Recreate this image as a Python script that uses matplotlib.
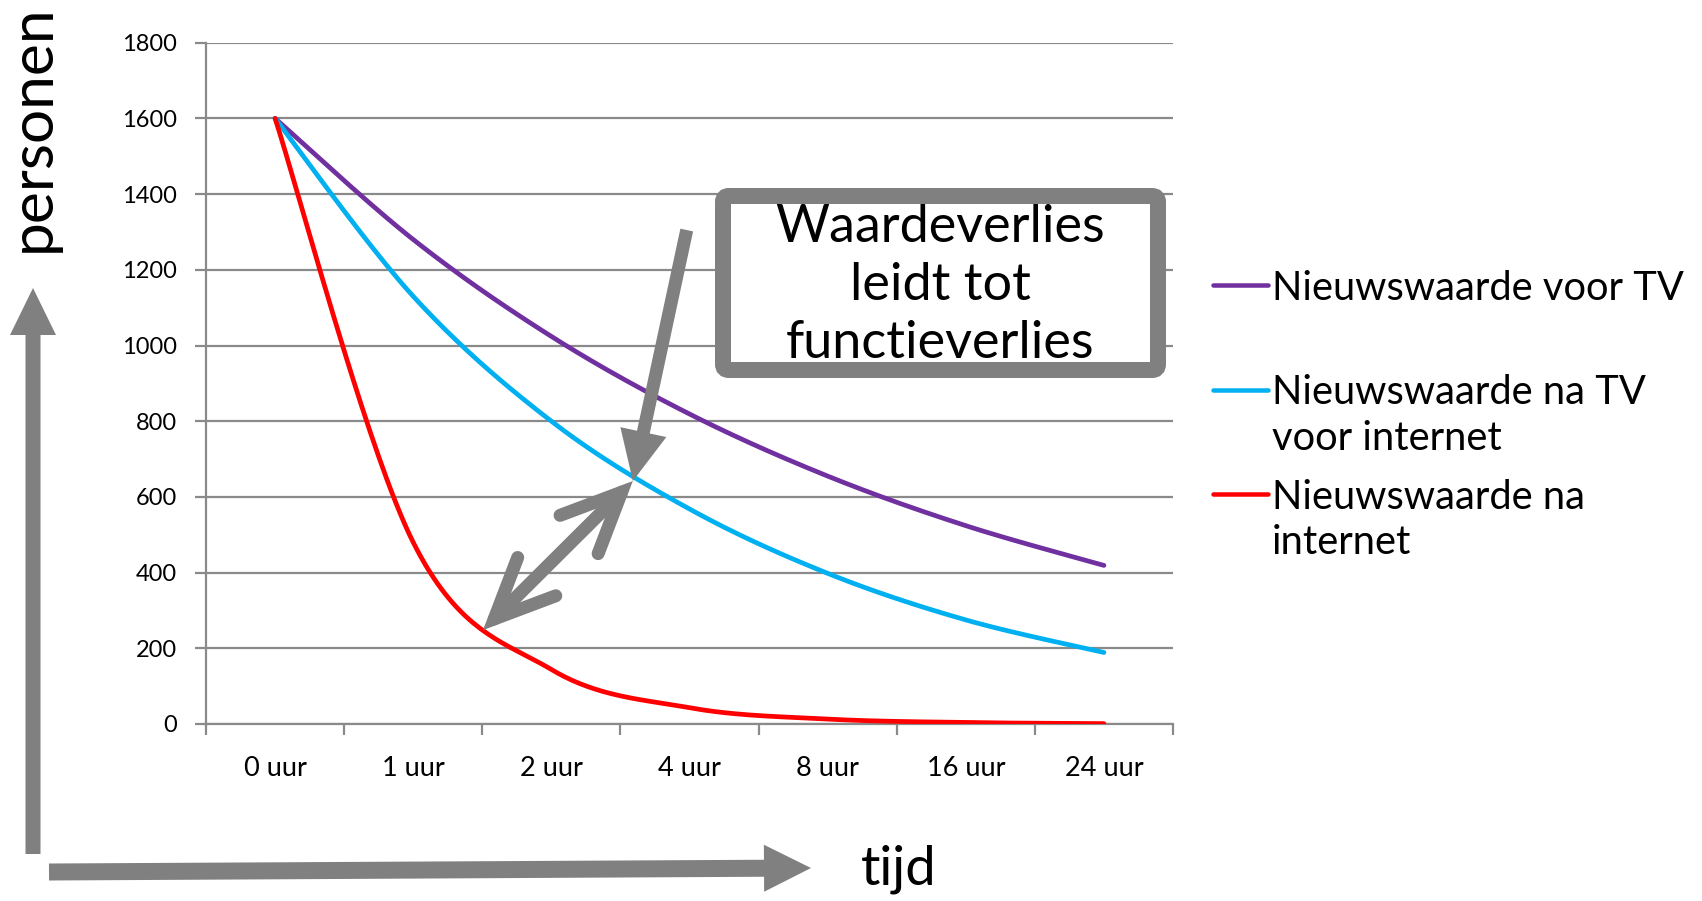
import numpy as np
import matplotlib
matplotlib.use("Agg")
import matplotlib.pyplot as plt
import matplotlib.transforms as mtransforms
from matplotlib.patches import FancyArrowPatch, FancyBboxPatch, ArrowStyle
from matplotlib.lines import Line2D

plt.rcParams['font.family'] = ['Lato', 'DejaVu Sans']

# data
categories = ["0 uur", "1 uur", "2 uur", "4 uur", "8 uur", "16 uur", "24 uur"]
voor_tv = [1600, 1280, 1024, 819, 655, 524, 419]
na_tv_voor_internet = [1600, 1130, 800, 568, 398, 275, 189]
na_internet = [1600, 480, 144, 43, 13, 4, 1]
series_labels = [["Nieuwswaarde voor TV"],
                 ["Nieuwswaarde na TV", "voor internet"],
                 ["Nieuwswaarde na", "internet"]]
series_colors = ["#7030A0", "#00B0F0", "#FF0000"]
yticks = list(range(0, 1801, 200))

W, H = 1702, 901
GRAY = "#808080"
GRID = "#8a8a8a"
PT = 72.0 / 100.0  # pixels -> points at dpi 100


def smooth_line(xs, ys, steps=40):
    # Excel-like smoothed line: cubic bezier segments through the points
    p = np.column_stack([xs, ys]).astype(float)
    p = np.vstack([p[0], p, p[-1]])
    out = []
    t = np.linspace(0, 1, steps)[:, None]
    for i in range(1, len(p) - 2):
        p0, p1, p2, p3 = p[i - 1], p[i], p[i + 1], p[i + 2]
        c1 = p1 + (p2 - p0) / 6.0
        c2 = p2 - (p3 - p1) / 6.0
        seg = (1 - t) ** 3 * p1 + 3 * (1 - t) ** 2 * t * c1 + 3 * (1 - t) * t ** 2 * c2 + t ** 3 * p2
        out.append(seg if i == 1 else seg[1:])
    out = np.vstack(out)
    return out[:, 0], out[:, 1]


fig = plt.figure(figsize=(W / 100, H / 100), dpi=100)
ax = fig.add_axes([206 / W, 1 - 724 / H, (1173 - 206) / W, (724 - 42.7) / H])

# pixel coordinates (origin top-left) for the decorations outside the axes
px = mtransforms.Affine2D().scale(1.0 / W, -1.0 / H).translate(0, 1) + fig.transFigure

x = np.arange(len(categories))
for vals, col in zip([voor_tv, na_tv_voor_internet, na_internet], series_colors):
    sx, sy = smooth_line(x, vals)
    ax.plot(sx, sy, color=col, lw=3.4, solid_capstyle='round', zorder=3)

ax.set_xlim(-0.5, len(categories) - 0.5)
ax.set_ylim(0, 1800)
ax.set_yticks(yticks)
ax.set_yticklabels([str(v) for v in yticks])
ax.grid(axis='y', color=GRID, lw=1.6)
ax.set_axisbelow(True)

# category boundaries get the tick marks, labels sit in the middle
ax.set_xticks(np.arange(-0.5, len(categories), 1.0))
ax.set_xticklabels([])
ax.set_xticks(x, minor=True)
ax.set_xticklabels(categories, minor=True)
ax.tick_params(axis='x', which='major', length=8 * PT * 1.4, width=1.6, color=GRID, direction='out')
ax.tick_params(axis='x', which='minor', length=0, pad=23, labelsize=19.5)
ax.tick_params(axis='y', length=8 * PT * 1.4, width=1.6, color=GRID, pad=13, labelsize=17)

for s in ['top', 'right']:
    ax.spines[s].set_visible(False)
for s in ['left', 'bottom']:
    ax.spines[s].set_color(GRID)
    ax.spines[s].set_linewidth(1.6)

# big axis arrows outside the chart
def block_arrow(p0, p1, tail, head_w, head_l):
    st = ArrowStyle.Simple(head_length=head_l * PT, head_width=head_w * PT, tail_width=tail * PT)
    a = FancyArrowPatch(p0, p1, transform=px, arrowstyle=st, mutation_scale=1,
                        color=GRAY, lw=0, shrinkA=0, shrinkB=0)
    fig.add_artist(a)

block_arrow((33, 854), (33, 288), 15, 46, 47)
block_arrow((49, 872), (811, 868), 17, 47, 47)

fig.text(33 / W, 1 - 128 / H, "personen", rotation=90, ha='center', va='center', fontsize=43.5)
fig.text(899 / W, 1 - 869 / H, "tijd", ha='center', va='center', fontsize=39)

# annotation box
box = FancyBboxPatch((723, 196), 435, 174, boxstyle="round,pad=0,rounding_size=6",
                     transform=px, facecolor='white', edgecolor=GRAY, lw=16 * PT)
fig.add_artist(box)
for txt, yy in zip(["Waardeverlies", "leidt tot", "functieverlies"], [228, 286, 344]):
    fig.text(940 / W, 1 - yy / H, txt, ha='center', va='center', fontsize=37.5)

# arrow from the box down to the blue curve
st1 = ArrowStyle.Simple(head_length=50 * PT, head_width=47 * PT, tail_width=13 * PT)
ax.add_patch(FancyArrowPatch((2.98, 1305), (2.59, 642), arrowstyle=st1, mutation_scale=1,
                             color=GRAY, lw=0, shrinkA=0, shrinkB=0, clip_on=False, zorder=5))

# double arrow between red and blue curve
st2 = ArrowStyle("<->", head_length=60 * PT, head_width=27 * PT)
ax.add_patch(FancyArrowPatch((1.505, 248), (2.59, 642), arrowstyle=st2, mutation_scale=1,
                             color=GRAY, lw=13 * PT, capstyle='round', joinstyle='miter',
                             shrinkA=0, shrinkB=0, clip_on=False, zorder=5))

# legend drawn by hand so the line sits at the first text row
leg_y = [288, 393, 497]
for lines, col, yy in zip(series_labels, series_colors, leg_y):
    fig.add_artist(Line2D([1213 / W, 1268 / W], [1 - (yy - 3) / H, 1 - (yy - 3) / H], color=col,
                          lw=4.5 * PT, solid_capstyle='round', transform=fig.transFigure))
    for k, line in enumerate(lines):
        fig.text(1272 / W, 1 - (yy + 45 * k) / H, line, ha='left', va='center', fontsize=28.7)

fig.savefig("out.png", dpi=100)
